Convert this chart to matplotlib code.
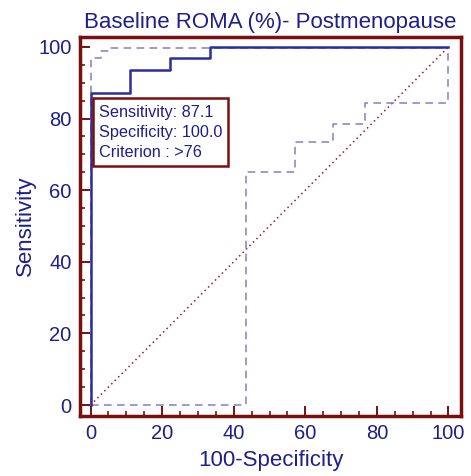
import matplotlib
matplotlib.use("Agg")
from matplotlib import pyplot as plt
from matplotlib.patches import Rectangle

# ROC curve (100-specificity, sensitivity)
roc_x = [0, 0, 11.1, 11.1, 22.2, 22.2, 33.3, 33.3, 100]
roc_y = [0, 87.1, 87.1, 93.5, 93.5, 96.8, 96.8, 100, 100]

# confidence bounds
upper_x = [0, 0, 3.0, 3.0, 5.5, 5.5, 100]
upper_y = [0, 96.8, 96.8, 98.8, 98.8, 99.8, 99.8]
lower_x = [0, 43.3, 43.3, 57.0, 57.0, 67.7, 67.7, 76.8, 76.8, 100, 100]
lower_y = [0, 0, 65.2, 65.2, 73.5, 73.5, 78.5, 78.5, 84.3, 84.3, 100]

ticks = [0, 20, 40, 60, 80, 100]
legend_lines = ["Sensitivity: 87.1", "Specificity: 100.0", "Criterion : >76"]

navy = "#1e1e8c"
curve = "#2c2c9e"
band = "#8080c4"
frame = "#7a0f0f"

plt.rcParams['font.family'] = ['Liberation Sans', 'DejaVu Sans']

fig = plt.figure(figsize=(4.71, 4.76), dpi=100)
ax = fig.add_axes([80/471, 60/476, 381/471, 379.5/476])

ax.plot([0, 100], [0, 100], color="#9b1c1c", linestyle=(0, (1, 2.2)), linewidth=1.1, zorder=1)
ax.plot(upper_x, upper_y, color=band, linestyle=(0, (5, 3.5)), linewidth=1.1, zorder=2)
ax.plot(lower_x, lower_y, color=band, linestyle=(0, (5, 3.5)), linewidth=1.1, zorder=2)
ax.plot(roc_x, roc_y, color=curve, linewidth=1.8, zorder=3)

ax.set_xlim(-2.95, 103.5)
ax.set_ylim(-3.07, 102.9)
ax.set_xticks(ticks)
ax.set_yticks(ticks)
ax.set_xticks(range(0, 101, 5), minor=True)
ax.set_yticks(range(0, 101, 5), minor=True)
ax.tick_params(which='major', direction='in', length=7, width=1.4, color=frame,
               labelsize=14.5, labelcolor=navy, pad=6)
ax.tick_params(which='minor', direction='in', length=3.5, width=1.2, color=frame)
for s in ax.spines.values():
    s.set_color(frame)
    s.set_linewidth(2.5)

ax.set_title("Baseline ROMA (%)- Postmenopause", fontsize=16, color=navy, pad=6)
ax.set_xlabel("100-Specificity", fontsize=16, color=navy, labelpad=5)
ax.set_ylabel("Sensitivity", fontsize=16, color=navy, labelpad=2)

ax.add_patch(Rectangle((0.7, 66.8), 37.7, 19.0, facecolor="white", edgecolor=frame,
                       linewidth=1.8, zorder=4))
for i, t in enumerate(legend_lines):
    ax.text(2.4, 81.6 - i * 5.6, t, fontsize=11.7, color=navy, va='center', ha='left', zorder=5)

plt.savefig("out.png", dpi=100)
